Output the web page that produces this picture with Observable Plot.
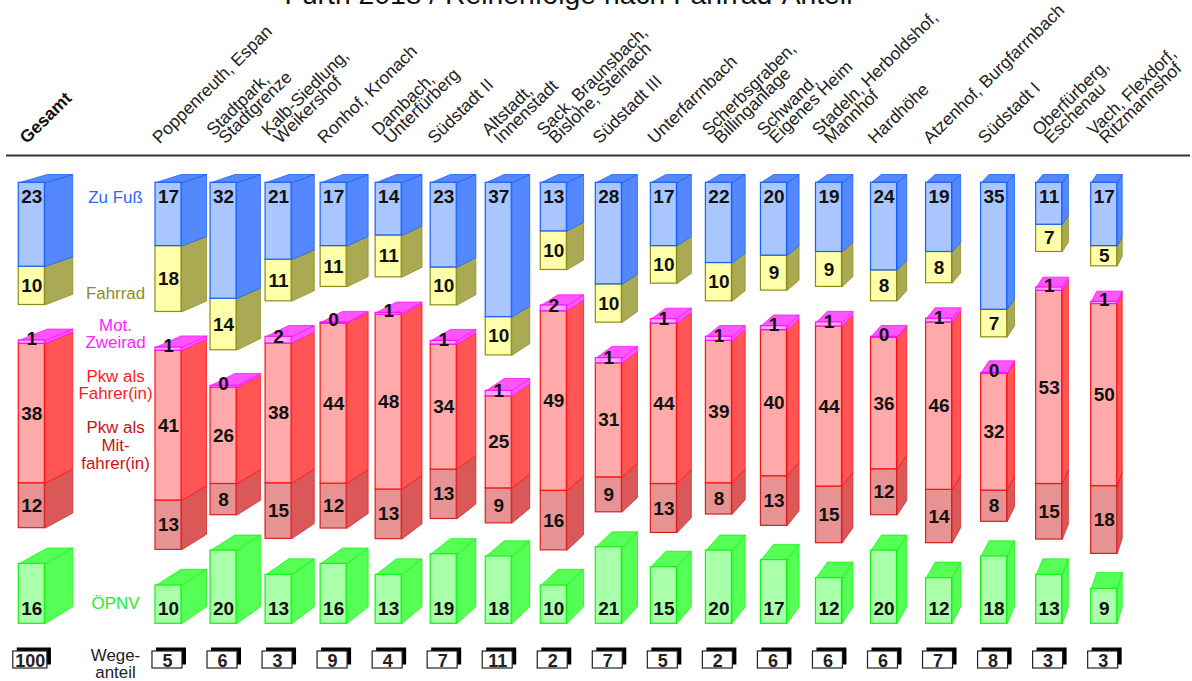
<!DOCTYPE html>
<html lang="de">
<head>
<meta charset="utf-8">
<title>Fürth 2018 / Reihenfolge nach Fahrrad-Anteil</title>
<script src="https://cdn.jsdelivr.net/npm/d3@7"></script>
<script src="https://cdn.jsdelivr.net/npm/@observablehq/plot@0.6"></script>
<style>
  html, body { margin: 0; padding: 0; background: #fff; overflow: hidden; }
  svg { display: block; }
</style>
</head>
<body>
<div id="chart"></div>
<script>
// Columns: first entry is the total, the others are the districts.
const columnNames = [
  ["Gesamt"],
  ["Poppenreuth, Espan"],
  ["Stadtpark,", "Stadtgrenze"],
  ["Kalb-Siedlung,", "Weikershof"],
  ["Ronhof, Kronach"],
  ["Dambach,", "Unterfürberg"],
  ["Südstadt II"],
  ["Altstadt,", "Innenstadt"],
  ["Sack, Braunsbach,", "Bislohe, Steinach"],
  ["Südstadt III"],
  ["Unterfarrnbach"],
  ["Scherbsgraben,", "Billinganlage"],
  ["Schwand,", "Eigenes Heim"],
  ["Stadeln, Herboldshof,", "Mannhof"],
  ["Hardhöhe"],
  ["Atzenhof, Burgfarrnbach"],
  ["Südstadt I"],
  ["Oberfürberg,", "Eschenau"],
  ["Vach, Flexdorf,", "Ritzmannshof"]
];

// Shares in percent; they round to the printed numbers.
const zuFuss =       [22.8, 17.2, 31.5, 20.9, 17.2, 14.3, 23, 36.5, 13.2, 27.6, 17.2, 21.8, 19.8, 18.8, 23.8, 18.8, 34.5, 11.4, 17.2];
const fahrrad =      [10.4, 17.9, 14, 11.3, 11.1, 11.4, 10.3, 10.4, 10.49, 10.4, 10.2, 10.4, 9.49, 9.49, 8.4, 8.49, 7.49, 7.4, 5.49];
const motZweirad =   [0.9, 0.9, 0.49, 1.8, 0.3, 0.5, 1, 1.49, 1.55, 1.4, 1.2, 1.1, 1.1, 1.1, 0.3, 1, 0.3, 0.9, 0.6];
const pkwFahrer =    [37.9, 40.7, 26.2, 38, 43.5, 47.5, 34, 25, 48.8, 31, 43.6, 38.7, 39.7, 43.5, 35.7, 45.5, 31.7, 52.5, 49.5];
const pkwMitfahrer = [12.2, 13.4, 8.49, 15.1, 12.2, 13.49, 13.4, 9.49, 16.2, 9.49, 13.3, 8.49, 13.49, 15.4, 12.49, 14.49, 8.49, 15.1, 18.4];
const oepnv =        [16.3, 10.4, 19.9, 13.3, 16.3, 13.3, 18.9, 18.3, 10.4, 20.8, 15.4, 19.9, 17.3, 12.4, 19.9, 12.4, 18.3, 13.3, 9.49];
const wegeanteil =   [100, 5, 6, 3, 9, 4, 7, 11, 2, 7, 5, 2, 6, 6, 6, 7, 8, 3, 3];

// ---- layout (in scale units: x = column slots, y = stacked percent) ----
const W = 1192, H = 681;
const slotPx = 55.04, slotZero = 155;      // pixels per column slot, pixel of slot 0
const unitPx = 3.68, unitZero = 182.3;     // pixels per percent, pixel of value 0
const gesamtSlot = -2.484;
const barW = 0.473;
const gap = 9.65;                          // gap between mode groups
const floorV = 119.84;                     // common base of the green bars
const slotOf = i => i === 0 ? gesamtSlot : i - 1;
const xDomain = [-slotZero / slotPx, (W - slotZero) / slotPx];
const yDomain = [-unitZero / unitPx, (H - unitZero) / unitPx];
// One-point perspective of the oblique faces
const vanishX = (1350 - slotZero) / slotPx, vanishY = (-239 - unitZero) / unitPx;
const depthX = 0.0214, depthY = 0.0197;
const backX = s => s + depthX * (vanishX - s);
const backY = v => v + depthY * (vanishY - v);

const font = "'Liberation Sans', Arial, sans-serif";
const styles = {
  walk:  {front: "#aac6ff", side: "#5588ff", stroke: "#1560ff"},
  bike:  {front: "#ffffaa", side: "#aaaa55", stroke: "#8c8c14"},
  moto:  {front: "#ffaaff", side: "#ff55ff", stroke: "#ff10ff"},
  drive: {front: "#ffaaaa", side: "#ff5555", stroke: "#ff1010"},
  ride:  {front: "#e89393", side: "#da5858", stroke: "#d82020"},
  pt:    {front: "#aaffaa", side: "#55ff55", stroke: "#10f510"}
};

// Build the stacked segments of each column
const segments = [];
columnNames.forEach((_, i) => {
  const s = slotOf(i);
  let v = 0;
  const push = (kind, value, top, label, cap) => {
    segments.push({kind, i, s, top, bottom: top + value, value, cap, label});
    return top + value;
  };
  v = push("walk", zuFuss[i], v, "fixedTop", true);
  v = push("bike", fahrrad[i], v, "center", false);
  v += gap;
  v = push("moto", motZweirad[i], v, "moto", true);
  v = push("drive", pkwFahrer[i], v, "center", false);
  v = push("ride", pkwMitfahrer[i], v, "center", false);
  push("pt", oepnv[i], floorV - oepnv[i], "fixedBottom", true);
});

const polygon = (id, pts) => pts.concat([pts[0]]).map(([x, y]) => ({id, x, y}));
const sideFace = d => {
  const r = d.s + barW;
  return polygon(`${d.kind}-${d.i}-s`, [[r, d.top], [backX(r), backY(d.top)], [backX(r), backY(d.bottom)], [r, d.bottom]]);
};
const topFace = d => {
  const l = d.s, r = d.s + barW;
  return polygon(`${d.kind}-${d.i}-t`, [[l, d.top], [backX(l), backY(d.top)], [backX(r), backY(d.top)], [r, d.top]]);
};

// Later kinds are painted first, so the upper segment's edge lies on top
const drawOrder = ["pt", "ride", "drive", "moto", "bike", "walk"];
const barMarks = drawOrder.flatMap(kind => {
  const st = styles[kind];
  const rows = segments.filter(d => d.kind === kind);
  const common = {x: "x", y: "y", z: "id", fill: st.side, stroke: st.stroke, strokeWidth: 1, strokeOpacity: 0.75};
  return [
    Plot.line(rows.flatMap(sideFace), common),
    Plot.line(rows.filter(d => d.cap).flatMap(topFace), common),
    Plot.rect(rows, {
      x1: "s", x2: d => d.s + barW, y1: "top", y2: "bottom",
      fill: st.front, stroke: st.stroke, strokeWidth: 1.2
    })
  ];
});

// Values printed in the bars
const labelY = d =>
  d.label === "fixedTop" ? 3.9 :
  d.label === "fixedBottom" ? floorV - 4.15 :
  d.label === "moto" ? (d.top + d.bottom) / 2 - 0.75 :
  (d.top + d.bottom) / 2;
const valueLabels = Plot.text(segments, {
  x: d => d.s + barW / 2, y: labelY,
  text: d => String(Math.round(d.value)),
  fontSize: 19, fontWeight: "bold", fontFamily: font, fill: "#111"
});

// Rotated names
const nameRows = columnNames.flatMap((lines, i) => lines.map((text, line) => ({
  text, i, s: slotOf(i), line, count: lines.length
})));
const nameBaseV = (143 - unitZero) / unitPx;
const nameMark = (rows, dx, dy, extra = {}) => Plot.text(rows, {
  x: "s", y: () => nameBaseV, text: "text", dx, dy, rotate: -44.5,
  textAnchor: "start", lineAnchor: "bottom",
  fontSize: 17.5, fontFamily: font, fill: "#222", ...extra
});
const nameMarks = [
  nameMark(nameRows.filter(d => d.i === 0), 8, 1, {fontWeight: "bold", fill: "#111"}),
  nameMark(nameRows.filter(d => d.i > 0 && d.count === 1), 4, 1),
  nameMark(nameRows.filter(d => d.i > 0 && d.count === 2 && d.line === 0), 3, -7),
  nameMark(nameRows.filter(d => d.i > 0 && d.count === 2 && d.line === 1), 15, 1)
];

// Share boxes along the bottom
const boxRows = wegeanteil.map((value, i) => ({
  value, s: slotOf(i),
  x1: slotOf(i) + (i === 0 ? -0.1 : -0.055),
  x2: slotOf(i) + (i === 0 ? 0.52 : 0.49)
}));
const boxTop = (651 - unitZero) / unitPx, boxBottom = (668 - unitZero) / unitPx;
const boxMarks = [
  Plot.rect(boxRows, {x1: "x1", x2: "x2", y1: () => boxTop, y2: () => boxBottom, fill: "#000", dx: 4, dy: -3.5}),
  Plot.rect(boxRows, {x1: "x1", x2: "x2", y1: () => boxTop, y2: () => boxBottom, fill: "#fff", stroke: "#222", strokeWidth: 1.2}),
  Plot.text(boxRows, {
    x: d => (d.x1 + d.x2) / 2, y: () => (boxTop + boxBottom) / 2, text: d => String(d.value),
    fontSize: 18, fontWeight: "bold", fontFamily: font, fill: "#222", dy: 1
  })
];

// Colored legend words between the total and the first district
const legendWords = [
  ["Zu Fuß", 197, "#2a66ff"], ["Fahrrad", 293, "#8c8c2a"],
  ["Mot.", 325, "#ff22ff"], ["Zweirad", 342, "#ff22ff"],
  ["Pkw als", 376, "#ff1a1a"], ["Fahrer(in)", 393, "#ff1a1a"],
  ["Pkw als", 427, "#cc1111"], ["Mit-", 445, "#cc1111"], ["fahrer(in)", 463, "#cc1111"],
  ["ÖPNV", 603, "#1cf01c"],
  ["Wege-", 655, "#222"], ["anteil", 672, "#222"]
];
const legendMark = Plot.text(legendWords, {
  x: () => (115 - slotZero) / slotPx, y: d => (d[1] - unitZero) / unitPx,
  text: d => d[0], fill: d => d[2], fontSize: 16.9, fontFamily: font
});

const chart = Plot.plot({
  width: W, height: H,
  marginTop: 0, marginRight: 0, marginBottom: 0, marginLeft: 0,
  style: {background: "#fff", overflow: "hidden"},
  x: {domain: xDomain, range: [0, W], axis: null},
  y: {domain: yDomain, range: [0, H], axis: null},
  marks: [
    Plot.text(["Fürth 2018 / Reihenfolge nach Fahrrad-Anteil"], {
      frameAnchor: "top", dx: -28, dy: 3, lineAnchor: "bottom",
      fontSize: 28.3, fontFamily: font, fill: "#111", text: d => d
    }),
    ...nameMarks,
    Plot.ruleY([(155 - unitZero) / unitPx], {
      x1: (6 - slotZero) / slotPx, x2: (1190 - slotZero) / slotPx,
      stroke: "#333", strokeWidth: 2
    }),
    ...barMarks,
    valueLabels,
    legendMark,
    ...boxMarks
  ]
});
document.getElementById("chart").append(chart);
</script>
</body>
</html>
